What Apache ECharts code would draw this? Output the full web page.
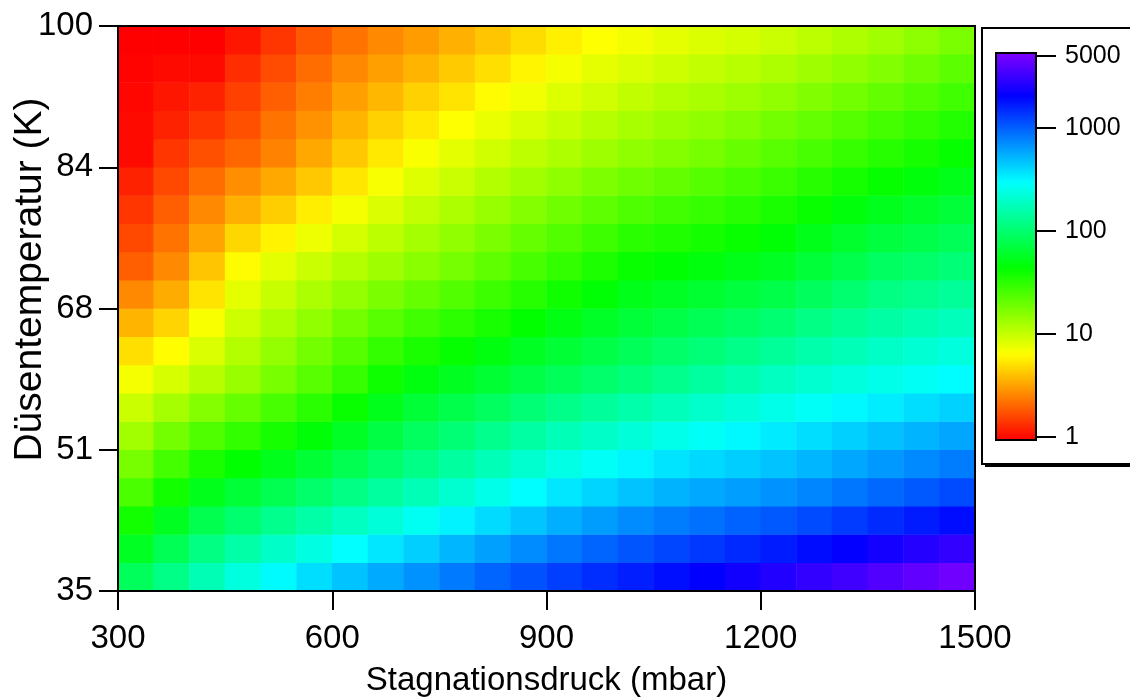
<!DOCTYPE html>
<html><head><meta charset="utf-8">
<script src="https://cdn.jsdelivr.net/npm/echarts@6/dist/echarts.min.js"></script>
<style>html,body{margin:0;padding:0;background:#fff}#c{width:1130px;height:697px}</style>
</head><body><div id="c"></div><script>
// cell centres (mbar) and (K)
const pressures = [325,375,425,475,525,575,625,675,725,775,825,875,925,975,1025,1075,1125,1175,1225,1275,1325,1375,1425,1475];
const temperatures = [36.625,39.875,43.125,46.375,49.625,52.875,56.125,59.375,62.625,65.875,69.125,72.375,75.625,78.875,82.125,85.375,88.625,91.875,95.125,98.375];
// values, one array per temperature row
const t36_6 = [86,121,171,233,308,383,472,571,683,815,957,1110,1280,1460,1640,1850,2070,2340,2630,2970,3330,3760,4240,4770];
const t39_9 = [57,82,116,154,197,241,296,359,431,519,613,717,836,957,1080,1220,1350,1510,1670,1870,2100,2360,2660,2990];
const t43_1 = [38.1,56.1,78.7,100,126,154,187,225,273,329,393,465,550,628,715,807,883,971,1060,1180,1320,1490,1670,1880];
const t46_4 = [25.3,38.2,53.6,65.5,79.7,96.6,118,143,172,209,251,303,360,412,471,534,576,624,677,745,836,938,1050,1180];
const t49_6 = [17.8,26.2,36.2,43.9,53.6,65.3,80.5,99.1,121,145,173,208,246,281,323,366,398,433,471,520,582,649,726,810];
const t52_9 = [12.9,18.2,24.2,29.9,37.2,46,57.7,72.8,88.9,105,125,148,173,198,225,255,281,313,347,384,427,474,527,586];
const t56_1 = [9.5,12.5,16.3,20.3,25.6,32.2,41.2,53.4,65.5,76.5,89.5,105,122,139,158,178,200,225,253,282,313,346,383,422];
const t59_4 = [6.9,8.7,11.0,13.8,17.7,22.6,29.4,39.3,48.4,55.7,64.3,74.3,85.3,96.9,110,125,143,163,186,210,229,251,277,305];
const t62_6 = [5.0,6.3,8.5,11.3,14.3,18.2,23.1,29.7,36.3,41.9,48.5,56.5,65.3,74.7,85.5,95.7,108,122,138,157,174,195,214,232];
const t65_9 = [3.6,4.6,6.6,9.3,11.8,14.7,18.2,22.7,27.1,31.4,36.7,43.2,50.5,58.3,67.1,74.3,82.3,91.5,102,118,134,151,164,179];
const t69_1 = [2.6,3.4,5.2,7.7,9.7,12.0,14.3,17.3,20.4,23.7,27.8,32.9,38.9,45.4,52.8,57.7,62.9,68.8,75.7,87.8,101,117,127,138];
const t72_4 = [1.9,2.6,4.1,6.2,7.8,9.6,11.3,13.2,15.5,18.1,21.3,25.4,30.1,35.4,41.2,44.8,48.2,52.3,57,66.6,77.7,90.3,97.9,106];
const t75_6 = [1.6,2.2,3.2,4.7,5.8,7.3,8.8,10.6,12.5,14.6,17.3,20.3,23.8,27.6,31.9,34.7,37.6,41.1,45.4,52.6,60.7,70.1,76.9,84.2];
const t78_9 = [1.4,1.9,2.6,3.5,4.4,5.6,6.8,8.4,10.1,11.9,13.9,16.2,18.8,21.6,24.5,26.8,29.3,32.3,36.0,41.4,47.4,54.3,60.2,66.6];
const t82_1 = [1.2,1.6,2.1,2.7,3.3,4.2,5.3,6.7,8.2,9.6,11.3,12.9,14.8,16.9,19.0,20.8,22.8,25.4,28.5,32.6,37.2,42.2,47.3,52.9];
const t85_4 = [1.0,1.4,1.7,2.0,2.5,3.3,4.2,5.4,6.6,7.8,9.1,10.4,11.8,13.4,14.8,16.3,17.9,20.1,22.7,25.7,29.1,32.9,37.2,42.0];
const t88_6 = [1.0,1.2,1.4,1.7,2.2,2.8,3.6,4.5,5.4,6.4,7.5,8.6,9.9,11.1,12.3,13.5,14.8,16.4,18.3,20.6,23.1,26.1,29.6,33.8];
const t91_9 = [0.97,1.1,1.2,1.5,1.9,2.4,3.1,3.7,4.5,5.2,6.2,7.1,8.2,9.2,10.2,11.3,12.2,13.3,14.7,16.5,18.5,20.7,23.7,27.1];
const t95_1 = [0.95,1.0,1.0,1.3,1.65,2.1,2.6,3.1,3.6,4.3,5.0,5.9,6.9,7.7,8.5,9.3,10.1,10.9,11.9,13.2,14.7,16.4,18.9,21.8];
const t98_4 = [0.8,0.8,0.9,1.1,1.4,1.8,2.2,2.6,3.0,3.5,4.1,4.9,5.7,6.4,7.0,7.7,8.3,8.9,9.6,10.6,11.8,13.1,15.1,17.5];
const rowsByTemperature = [t36_6,t39_9,t43_1,t46_4,t49_6,t52_9,t56_1,t59_4,t62_6,t65_9,t69_1,t72_4,t75_6,t78_9,t82_1,t85_4,t88_6,t91_9,t95_1,t98_4];

const xTicks = [300,600,900,1200,1500];
const yTicks = [35,51.25,67.5,83.75,100];
const colorTicks = [1,10,100,1000,5000];
const colorRange = [0.93,5370];
const rainbow = ['#ff0000','#ff8000','#ffff00','#80ff00','#00ff00','#00ff80','#00ffff','#0080ff','#0000ff','#8000ff'];

const data = [];
rowsByTemperature.forEach((row, j) => row.forEach((v, i) => data.push([i, j, Math.log10(v)])));

const FONT = 'Liberation Sans, Arial, sans-serif';
const lminC = Math.log10(colorRange[0]), lmaxC = Math.log10(colorRange[1]);
const cbTickPos = colorTicks.map(v => Math.log10(v));

const chart = echarts.init(document.getElementById('c'), null, {renderer:'canvas'});
chart.setOption({
  animation:false,
  backgroundColor:'#fff',
  textStyle:{fontFamily:FONT, color:'#000'},
  graphic:[
    {type:'rect', z:0, shape:{x:985,y:31,width:200,height:436}, style:{fill:'#000'}},
    {type:'rect', z:0, shape:{x:982,y:28,width:200,height:436}, style:{fill:'#fff', stroke:'#000', lineWidth:2}}
  ],
  grid:[
    {left:118, top:26, width:857, height:565, show:true, borderColor:'#000', borderWidth:2, backgroundColor:'transparent', z:10, containLabel:false, outerBoundsMode:'none'},
    {left:996, top:53, width:40, height:387, show:true, borderColor:'#000', borderWidth:2, backgroundColor:'transparent', z:10, containLabel:false, outerBoundsMode:'none'}
  ],
  xAxis:[
    {gridIndex:0, type:'category', data:pressures, show:false, position:'top'},
    {gridIndex:0, type:'value', min:300, max:1500, interval:300, position:'bottom', z:10,
     name:'Stagnationsdruck (mbar)', nameLocation:'middle', nameGap:73,
     nameTextStyle:{fontSize:33, color:'#000', fontFamily:FONT},
     axisLine:{show:true, onZero:false, lineStyle:{color:'#000', width:2}},
     axisTick:{show:true, length:19, lineStyle:{color:'#000', width:2}},
     axisLabel:{fontSize:33, color:'#000', margin:31, fontFamily:FONT, formatter:v=>String(v)},
     splitLine:{show:false}},
    {gridIndex:1, type:'category', data:['c'], show:false}
  ],
  yAxis:[
    {gridIndex:0, type:'category', data:temperatures, show:false, position:'right'},
    {gridIndex:0, type:'value', min:35, max:100, position:'left', z:10,
     name:'Düsentemperatur (K)', nameLocation:'middle', nameGap:68, nameRotate:90, nameMoveOverlap:false,
     nameTextStyle:{fontSize:39, color:'#000', fontFamily:FONT, padding:[0,0,0,58]},
     axisLine:{show:true, onZero:false, lineStyle:{color:'#000', width:2}},
     axisTick:{show:true, length:19, lineStyle:{color:'#000', width:2}, customValues:yTicks},
     axisLabel:{fontSize:33, color:'#000', margin:25, fontFamily:FONT, customValues:yTicks, formatter:v=>String(Math.round(v))},
     splitLine:{show:false}},
    {gridIndex:1, type:'value', min:lminC, max:lmaxC, position:'right', z:10,
     axisLine:{show:false, onZero:false},
     axisTick:{show:true, inside:false, length:20, lineStyle:{color:'#000', width:2}, customValues:cbTickPos},
     axisLabel:{fontSize:25, color:'#000', margin:29, fontFamily:FONT, customValues:cbTickPos, formatter:v=>String(Math.round(Math.pow(10,v)))},
     splitLine:{show:false}}
  ],
  visualMap:{
    type:'continuous', seriesIndex:0, dimension:2, min:lminC, max:lmaxC,
    inRange:{color:rainbow}, orient:'vertical', left:996, top:53, itemWidth:40, itemHeight:387,
    calculable:false, padding:0, text:null, hoverLink:false, z:4
  },
  series:[{
    type:'heatmap', xAxisIndex:0, yAxisIndex:0, data:data, progressive:0,
    itemStyle:{borderWidth:0}, emphasis:{disabled:true}
  }]
});
</script></body></html>
